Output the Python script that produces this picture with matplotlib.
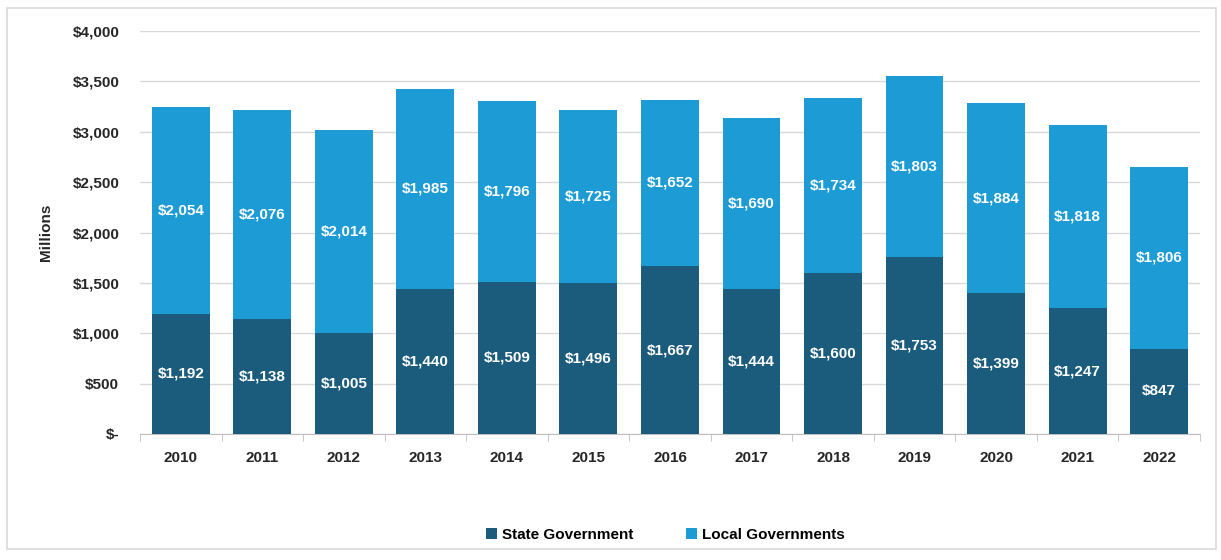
import numpy as np
import matplotlib.pyplot as plt
from matplotlib.patches import Rectangle

years = ["2010", "2011", "2012", "2013", "2014", "2015", "2016",
         "2017", "2018", "2019", "2020", "2021", "2022"]
state = [1192, 1138, 1005, 1440, 1509, 1496, 1667, 1444, 1600, 1753, 1399, 1247, 847]
local = [2054, 2076, 2014, 1985, 1796, 1725, 1652, 1690, 1734, 1803, 1884, 1818, 1806]

state_color = "#1b5c7d"
local_color = "#1c9bd5"

plt.rcParams['font.family'] = ['Liberation Sans', 'DejaVu Sans']

fig = plt.figure(figsize=(12.21, 5.6), dpi=100)
ax = fig.add_axes([0.1147, 0.225, 0.868, 0.7196])

# light frame around the whole chart
fig.patches.append(Rectangle((0.006, 0.02), 0.99, 0.965, transform=fig.transFigure,
                             fill=False, edgecolor="#d9d9d9", linewidth=1.2))

x = np.arange(len(years))
w = 0.71
b1 = ax.bar(x, state, w, color=state_color, label="State Government", zorder=3)
b2 = ax.bar(x, local, w, bottom=state, color=local_color, label="Local Governments", zorder=3)

for i in range(len(years)):
    ax.text(x[i], state[i] / 2, f"${state[i]:,}", ha="center", va="center",
            color="white", fontsize=11, fontweight="bold", zorder=4)
    ax.text(x[i], state[i] + local[i] / 2, f"${local[i]:,}", ha="center", va="center",
            color="white", fontsize=11, fontweight="bold", zorder=4)

ax.set_xlim(-0.5, len(years) - 0.5)
ax.set_ylim(0, 4000)
yt = np.arange(0, 4001, 500)
ax.set_yticks(yt)
ax.set_yticklabels(["$-"] + [f"${v:,}" for v in yt[1:]])
ax.set_xticks(x)
ax.set_xticklabels(years)
ax.set_xticks(np.arange(-0.5, len(years)), minor=True)
ax.tick_params(axis="x", which="major", length=0, pad=12)
ax.tick_params(axis="x", which="minor", length=5, color="#bfbfbf")
ax.tick_params(axis="y", length=0, pad=15)
for lab in ax.get_xticklabels() + ax.get_yticklabels():
    lab.set_fontweight("bold")
    lab.set_fontsize(11)
    lab.set_color("#262626")

ax.grid(axis="y", color="#d9d9d9", linewidth=1, zorder=0)
for s in ["top", "right", "left"]:
    ax.spines[s].set_visible(False)
ax.spines["bottom"].set_color("#bfbfbf")

ax.set_ylabel("Millions", fontsize=11, fontweight="bold", color="#262626", labelpad=14)

fig.legend(handles=[b1, b2], loc="center", bbox_to_anchor=(0.545, 0.045), ncol=2,
           frameon=False, handlelength=0.7, handleheight=0.7,
           columnspacing=3.5, handletextpad=0.3,
           prop={"weight": "bold", "size": 11})

fig.savefig("out.png", dpi=100)
